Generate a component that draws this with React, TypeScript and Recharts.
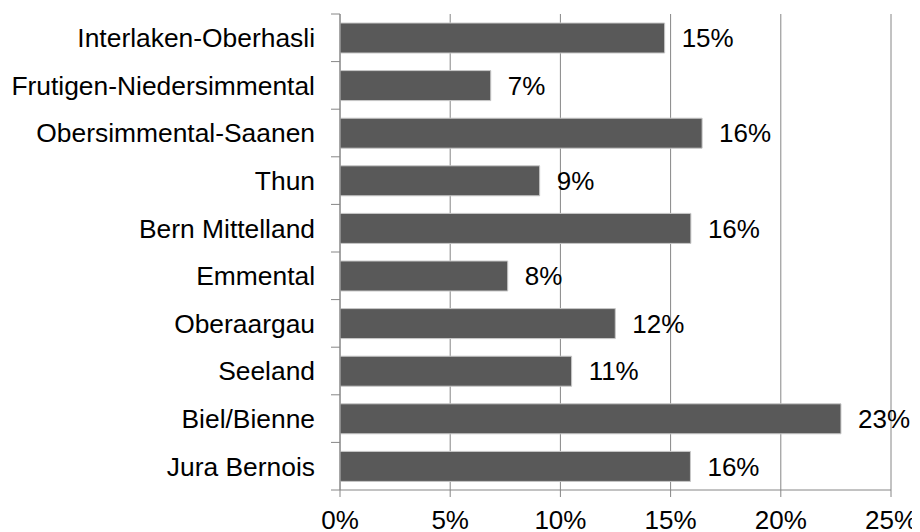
import React from "react";
import { BarChart, Bar, XAxis, YAxis, CartesianGrid, LabelList } from "recharts";

const categories = [
  "Interlaken-Oberhasli",
  "Frutigen-Niedersimmental",
  "Obersimmental-Saanen",
  "Thun",
  "Bern Mittelland",
  "Emmental",
  "Oberaargau",
  "Seeland",
  "Biel/Bienne",
  "Jura Bernois",
];
const values = [14.73, 6.84, 16.43, 9.06, 15.92, 7.61, 12.49, 10.51, 22.73, 15.9];
const xTicks = [0, 5, 10, 15, 20, 25];

const data = categories.map((name, i) => ({ name, value: values[i] }));

const FONT = "'Liberation Sans', Arial, sans-serif";
const GRID = "#868686";
const BAND = 476 / categories.length;

const YTick = (props: any) => {
  const { x, y, payload, index } = props;
  const axisX = x + 25;
  const half = BAND / 2;
  return (
    <g>
      <line x1={axisX - 9} x2={axisX} y1={y - half} y2={y - half} stroke={GRID} strokeWidth={1} />
      {index === categories.length - 1 && (
        <line x1={axisX - 9} x2={axisX} y1={y + half} y2={y + half} stroke={GRID} strokeWidth={1} />
      )}
      <text x={x} y={y} dy="0.355em" textAnchor="end" fill="#000" fontSize={26.4} fontFamily={FONT}>
        {payload.value}
      </text>
    </g>
  );
};

export default function App() {
  return (
    <div style={{ width: 912, height: 524, fontFamily: FONT }}>
      <BarChart
        width={912}
        height={524}
        data={data}
        layout="vertical"
        margin={{ top: 6, right: 29, bottom: 0, left: 0 }}
        barSize={30}
      >
        <CartesianGrid horizontal={false} vertical={true} stroke={GRID} strokeWidth={1} />
        <XAxis
          type="number"
          domain={[0, 25]}
          ticks={xTicks}
          interval={0}
          tickFormatter={(v: number) => `${v}%`}
          height={42}
          tickSize={7}
          tickMargin={14}
          axisLine={{ stroke: GRID }}
          tickLine={{ stroke: GRID }}
          tick={{ fill: "#000", fontSize: 26, fontFamily: FONT }}
        />
        <YAxis
          type="category"
          dataKey="name"
          width={332}
          tickSize={9}
          tickMargin={16}
          tickLine={false}
          axisLine={{ stroke: GRID }}
          tick={<YTick />}
          interval={0}
        />
        <Bar dataKey="value" fill="#595959" stroke="#c8c8c8" strokeWidth={1} isAnimationActive={false}>
          <LabelList
            dataKey="value"
            position="right"
            offset={17}
            formatter={(v: any) => `${Math.round(Number(v))}%`}
            style={{ fill: "#000", fontSize: 26, fontFamily: FONT }}
          />
        </Bar>
      </BarChart>
    </div>
  );
}
